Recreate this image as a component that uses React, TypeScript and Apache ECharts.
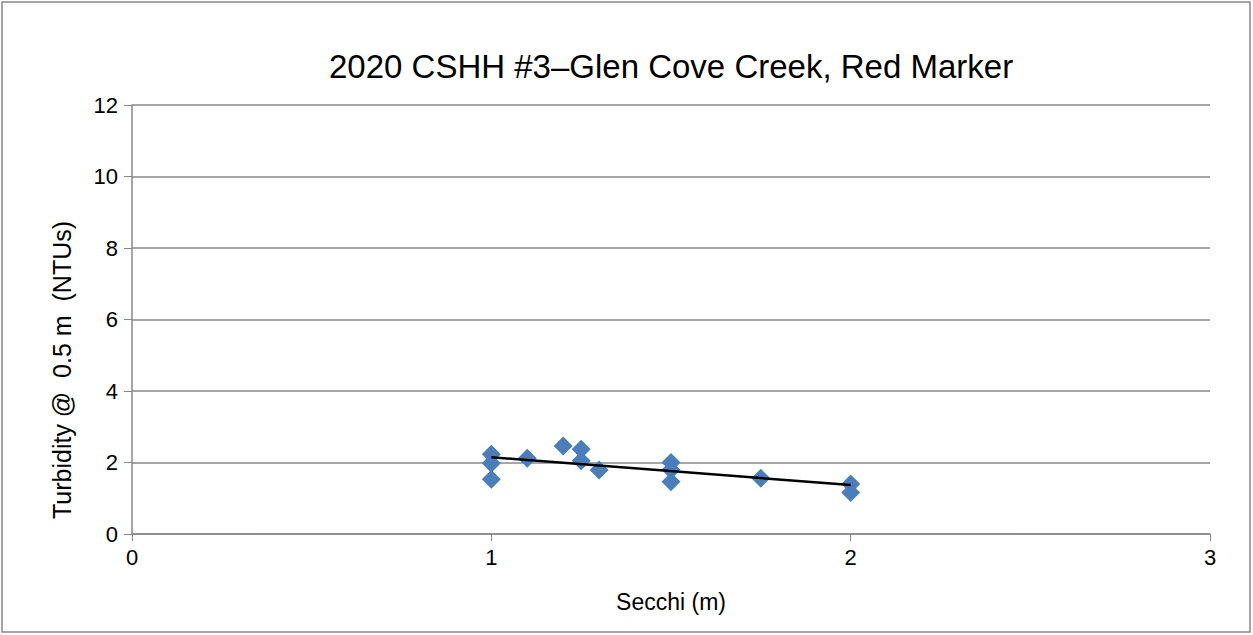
import React, { useEffect, useRef } from "react";
import * as echarts from "echarts";

const secchi = [1, 1, 1, 1.1, 1.2, 1.25, 1.25, 1.3, 1.5, 1.5, 1.5, 1.75, 2, 2];
const turbidity = [2.23, 1.98, 1.53, 2.12, 2.46, 2.37, 2.05, 1.79, 2.0, 1.8, 1.46, 1.56, 1.4, 1.16];
const xTicks = [0, 1, 2, 3];
const yTicks = [0, 2, 4, 6, 8, 10, 12];
const titleText = "2020 CSHH #3\u2013Glen Cove Creek, Red Marker";
const yName = "Turbidity @  0.5 m  (NTUs)";
const xName = "Secchi (m)";

function fitLine(xs: number[], ys: number[]) {
  const n = xs.length;
  const mx = xs.reduce((a, b) => a + b, 0) / n;
  const my = ys.reduce((a, b) => a + b, 0) / n;
  let sxy = 0, sxx = 0;
  for (let i = 0; i < n; i++) {
    sxy += (xs[i] - mx) * (ys[i] - my);
    sxx += (xs[i] - mx) * (xs[i] - mx);
  }
  const slope = sxy / sxx;
  const b = my - slope * mx;
  const x0 = Math.min(...xs), x1 = Math.max(...xs);
  return [[x0, b + slope * x0], [x1, b + slope * x1]];
}

export default function App() {
  const ref = useRef<HTMLDivElement>(null);
  useEffect(() => {
    const chart = echarts.init(ref.current!, null, { renderer: "svg" });
    const font = "'Liberation Sans', sans-serif";
    chart.setOption({
      animation: false,
      backgroundColor: "#fff",
      title: {
        text: titleText,
        left: 324,
        top: 45,
        textStyle: { fontFamily: font, fontSize: 33, fontWeight: "normal", color: "#000" },
      },
      grid: { left: 132, right: 43, top: 105, bottom: 101 },
      xAxis: {
        type: "value",
        min: xTicks[0],
        max: xTicks[xTicks.length - 1],
        interval: 1,
        name: xName,
        nameLocation: "middle",
        nameGap: 56,
        nameTextStyle: { fontFamily: font, fontSize: 23, color: "#000" },
        axisLine: { show: true, lineStyle: { color: "#888", width: 1.5 } },
        axisTick: { show: true, length: 7, lineStyle: { color: "#888" } },
        axisLabel: { fontFamily: font, fontSize: 22, color: "#000", margin: 12 },
        splitLine: { show: false },
      },
      yAxis: {
        type: "value",
        min: yTicks[0],
        max: yTicks[yTicks.length - 1],
        interval: 2,
        axisLine: { show: true, lineStyle: { color: "#888", width: 1.5 } },
        axisTick: { show: true, length: 8, lineStyle: { color: "#888" } },
        axisLabel: { fontFamily: font, fontSize: 22, color: "#000", margin: 14 },
        splitLine: { show: true, lineStyle: { color: "#888", width: 1.5 } },
      },
      series: [
        {
          type: "scatter",
          data: secchi.map((x, i) => [x, turbidity[i]]),
          symbol: "diamond",
          symbolSize: 19,
          itemStyle: { color: "#4A7EBB", opacity: 1 },
          z: 2,
        },
        {
          type: "line",
          data: fitLine(secchi, turbidity),
          symbol: "none",
          lineStyle: { color: "#000", width: 2.5 },
          z: 3,
        },
      ],
      graphic: [
        {
          type: "rect",
          shape: { x: 2, y: 2, width: 1248, height: 630 },
          style: { fill: "none", stroke: "#888", lineWidth: 1.5 },
          silent: true,
        },
        {
          type: "text",
          x: 62,
          y: 370,
          rotation: Math.PI / 2,
          style: {
            text: yName,
            fontFamily: font,
            fontSize: 25,
            fill: "#000",
            align: "center",
            verticalAlign: "middle",
          },
          silent: true,
        },
      ],
    });
    return () => chart.dispose();
  }, []);
  return (
    <div
      ref={ref}
      style={{ position: "absolute", left: 0, top: 0, width: 1253, height: 635 }}
    />
  );
}
